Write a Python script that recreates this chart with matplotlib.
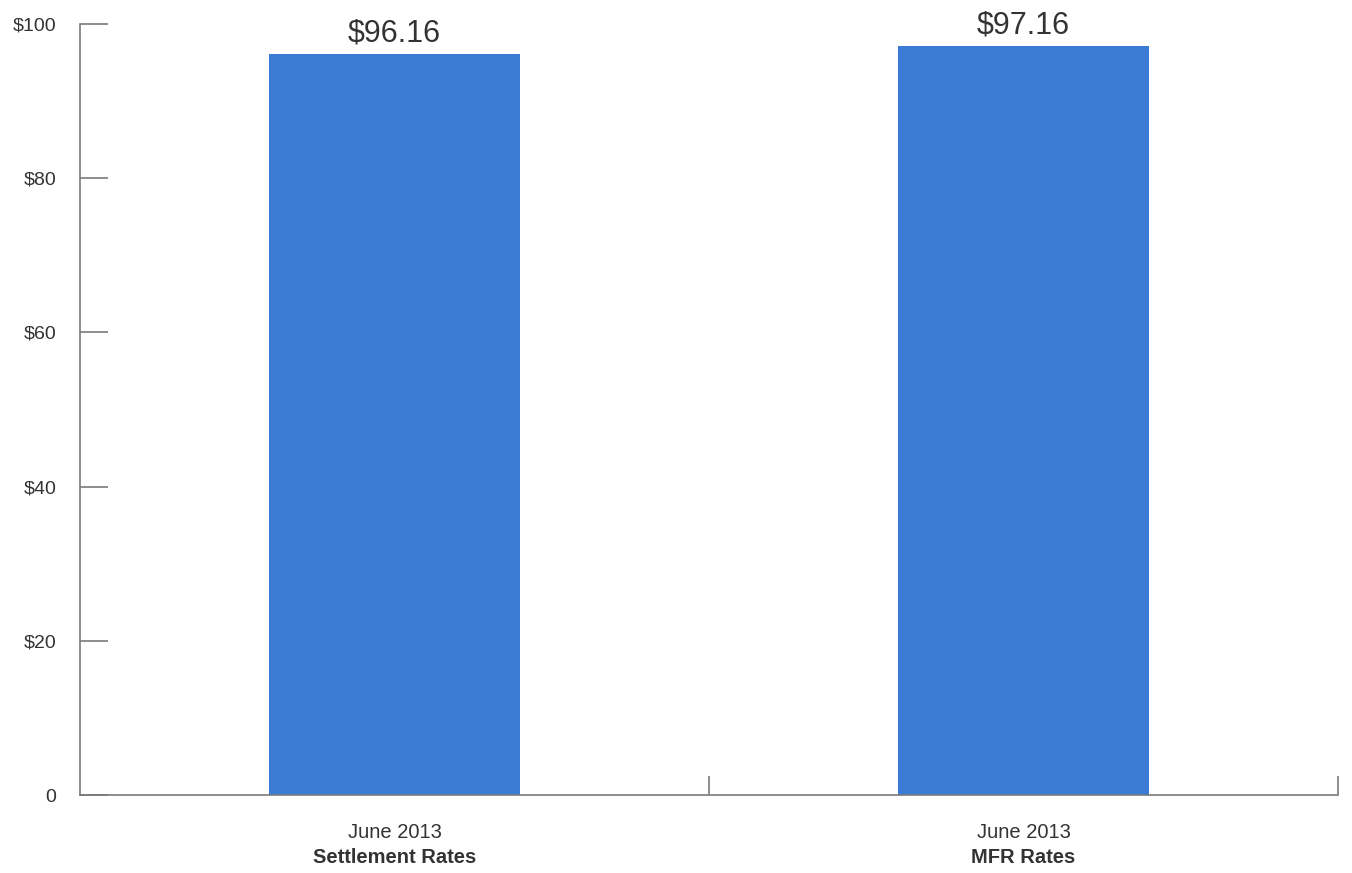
import matplotlib.pyplot as plt
from matplotlib.ticker import FixedLocator

plt.rcParams["font.family"] = ["Liberation Sans", "DejaVu Sans"]

top_lines = ["June 2013", "June 2013"]
bottom_lines = ["Settlement Rates", "MFR Rates"]
values = [96.16, 97.16]
value_labels = ["$96.16", "$97.16"]
y_ticks = [0, 20, 40, 60, 80, 100]
y_tick_labels = ["0", "$20", "$40", "$60", "$80", "$100"]

bar_color = "#3b7bd6"
text_color = "#333333"
axis_color = "#7a7a7a"

fig = plt.figure(figsize=(13.52, 8.73), dpi=100)
ax = fig.add_axes([0.0592, 0.0893, 0.9304, 0.8832])

xs = [0.5, 1.5]
ax.bar(xs, values, width=0.40, color=bar_color, zorder=2)
for x, v, lab in zip(xs, values, value_labels):
    ax.text(x, v + 2.6, lab, ha="center", va="center", fontsize=22, color=text_color)

ax.set_xlim(0, 2)
ax.set_ylim(0, 100)

ax.set_yticks(y_ticks)
ax.set_yticklabels(y_tick_labels, fontsize=14, color=text_color)
ax.tick_params(axis="y", direction="in", length=20, width=1.2, color=axis_color, pad=17)

ax.set_xticks(xs)
ax.set_xticklabels([])
ax.tick_params(axis="x", which="major", length=0)
ax.xaxis.set_minor_locator(FixedLocator([1, 2]))
ax.tick_params(axis="x", which="minor", direction="in", length=14, width=1.2, color=axis_color)

for x, t, b in zip(xs, top_lines, bottom_lines):
    ax.text(x, -4.9, t, ha="center", va="center", fontsize=14.5, color=text_color)
    ax.text(x, -8.1, b, ha="center", va="center", fontsize=14.5, color=text_color,
            fontweight="bold")

for side in ["top", "right"]:
    ax.spines[side].set_visible(False)
for side in ["left", "bottom"]:
    ax.spines[side].set_color(axis_color)
    ax.spines[side].set_linewidth(1.2)

fig.savefig("out.png", dpi=100)
